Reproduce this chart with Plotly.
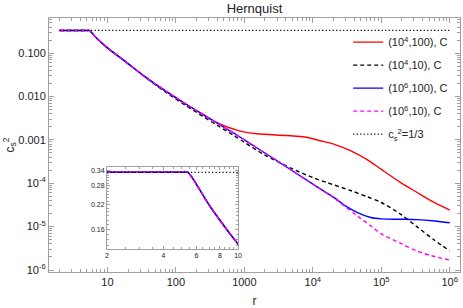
import plotly.graph_objects as go

# ---------------- data ----------------
r_common = [2, 5.2, 5.4, 7.08, 10, 18.2, 35.2, 68.4, 132, 257]
cs2_common = [0.3333, 0.3333, 0.3333, 0.215, 0.132, 0.0646, 0.0288, 0.0138, 0.00708, 0.00372]

r_red_tail = [398, 794, 1514, 4170, 8130, 12000, 21000, 36000, 63000, 98000, 190000, 330000, 575000, 1000000]
cs2_red_tail = [2.5e-3, 1.66e-3, 1.38e-3, 1.26e-3, 1.15e-3, 9.8e-4, 7.8e-4, 5.6e-4, 3.47e-4, 2.14e-4, 1.05e-4, 6.2e-5, 3.7e-5, 2.4e-5]

r_black = [2, 5.2, 5.4, 7.08, 10, 18.2, 35.2, 68.4, 132, 257, 398, 692, 1000, 2000, 4900, 10000, 16600,
           35500, 62000, 100000, 190000, 330000, 575000, 1000000]
cs2_black = [0.3333, 0.3333, 0.3333, 0.215, 0.132, 0.0646, 0.0282, 0.0131, 0.00655, 0.00336, 0.00218, 0.00128,
             8.8e-4, 4.45e-4, 2.19e-4, 1.35e-4, 1.02e-4, 6.8e-5, 4.9e-5, 3.6e-5, 1.95e-5, 1.0e-5, 5.1e-6, 2.75e-6]

r_mid = [398, 692, 1000, 3000, 12000]
cs2_mid = [2.45e-3, 1.45e-3, 1.0e-3, 3.3e-4, 7.9e-5]

r_blue_tail = [20000, 30000, 45000, 70000, 100000, 200000, 330000, 600000, 1000000]
cs2_blue_tail = [4.8e-5, 3.0e-5, 2.1e-5, 1.62e-5, 1.51e-5, 1.48e-5, 1.45e-5, 1.35e-5, 1.23e-5]

r_mag_tail = [20000, 30000, 45000, 70000, 100000, 200000, 330000, 560000, 1000000]
cs2_mag_tail = [4.7e-5, 2.85e-5, 1.75e-5, 1.05e-5, 6.8e-6, 4.0e-6, 2.75e-6, 2.1e-6, 1.7e-6]

r_ref = [2, 1000000]
cs2_ref = [1 / 3, 1 / 3]

names = ["(10<sup>4</sup>,100), C", "(10<sup>4</sup>,10), C", "(10<sup>6</sup>,100), C",
         "(10<sup>6</sup>,10), C", "c<sub>s</sub><sup>2</sup>=1/3"]

y_tickvals = [0.1, 0.01, 0.001, 1e-4, 1e-5, 1e-6]
y_ticktext = ["0.100", "0.010", "0.001", "10<sup>-4</sup>", "10<sup>-5</sup>", "10<sup>-6</sup>"]
x_tickvals = [10, 100, 1000, 1e4, 1e5, 1e6]
x_ticktext = ["10", "100", "1000", "10<sup>4</sup>", "10<sup>5</sup>", "10<sup>6</sup>"]

in_x_tickvals = [2, 4, 6, 8, 10]
in_x_ticktext = ["2", "4", "6", "8", "10"]
in_y_tickvals = [0.16, 0.22, 0.28, 0.34]
in_y_ticktext = ["0.16", "0.22", "0.28", "0.34"]

# ---------------- build series ----------------
DASH = "4px,3px"
DOT = "1.2px,2.3px"
series = [
    (r_common + r_red_tail, cs2_common + cs2_red_tail, "#ff0000", "solid"),
    (r_black, cs2_black, "#000000", DASH),
    (r_common + r_mid + r_blue_tail, cs2_common + cs2_mid + cs2_blue_tail, "#0000ff", "solid"),
    (r_common + r_mid + r_mag_tail, cs2_common + cs2_mid + cs2_mag_tail, "#ff00ff", DASH),
    (r_ref, cs2_ref, "#000000", DOT),
]

fig = go.Figure()
for axes, show in ((("x", "y"), True), (("x2", "y2"), False)):
    for i, (xs, ys, col, dash) in enumerate(series):
        shape = "linear" if dash == DOT else "spline"
        fig.add_trace(go.Scatter(x=xs, y=ys, mode="lines", name=names[i], legendgroup=f"g{i}",
                                 showlegend=show,
                                 line=dict(color=col, dash=dash, width=1.4 if dash != DOT else 1.2,
                                           shape=shape, smoothing=0.8),
                                 xaxis=axes[0], yaxis=axes[1]))

def minor_log(lo, hi):
    vals = []
    d = 10 ** lo
    while d <= 10 ** hi:
        for k in range(2, 10):
            vals.append(k * d)
        d *= 10
    return vals

frame = "#a0a0a0"
FAM = "Liberation Sans, Arial, sans-serif"
tickfont = dict(family=FAM, size=11, color="#222")
small = dict(family=FAM, size=7, color="#222")
fig.update_layout(
    width=463, height=308,
    margin=dict(l=49, r=3, t=18, b=36),
    paper_bgcolor="white", plot_bgcolor="white",
    font=dict(family=FAM, size=11, color="#222"),
    title=dict(text="Hernquist", x=0.5, xanchor="center", xref="paper", y=0.972, yanchor="middle",
               font=dict(size=13, color="#222")),
    showlegend=True,
    legend=dict(x=0.728, y=0.962, xanchor="left", yanchor="top", bgcolor="rgba(0,0,0,0)",
                font=dict(size=11), tracegroupgap=4, itemwidth=30),
    xaxis=dict(type="log", range=[0.146, 6.15], showgrid=False, zeroline=False, automargin=False,
               showline=True, linecolor=frame, linewidth=1, mirror="allticks",
               ticks="inside", ticklen=5, tickcolor=frame,
               tickvals=x_tickvals, ticktext=x_ticktext, tickfont=tickfont,
               minor=dict(tickvals=minor_log(0, 6), ticks="inside", ticklen=3, tickcolor=frame, showgrid=False),
               title=dict(text="r", standoff=11, font=dict(size=12)), anchor="y"),
    yaxis=dict(type="log", range=[-6.046, -0.19], showgrid=False, zeroline=False, automargin=False,
               showline=True, linecolor=frame, linewidth=1, mirror="allticks",
               ticks="inside", ticklen=5, tickcolor=frame,
               tickvals=y_tickvals, ticktext=y_ticktext, tickfont=tickfont,
               minor=dict(tickvals=minor_log(-7, -1), ticks="inside", ticklen=3, tickcolor=frame, showgrid=False),
               title=dict(text="c<sub>s</sub><sup>2</sup>", standoff=0, font=dict(size=12)), anchor="x"),
    xaxis2=dict(type="log", range=[0.301, 1.0], domain=[0.141, 0.460], anchor="y2", automargin=False,
                showgrid=False, zeroline=False, showline=True, linecolor=frame, linewidth=1, mirror="allticks",
                ticks="inside", ticklen=3, tickcolor=frame,
                tickvals=in_x_tickvals, ticktext=in_x_ticktext, tickfont=small,
                minor=dict(tickvals=[2.5, 3, 3.5, 4.5, 5, 5.5, 6.5, 7, 7.5, 8.5, 9, 9.5], ticks="inside", ticklen=2,
                           tickcolor=frame, showgrid=False)),
    yaxis2=dict(type="log", range=[-0.907, -0.448], domain=[0.0906, 0.413], anchor="x2", automargin=False,
                showgrid=False, zeroline=False, showline=True, linecolor=frame, linewidth=1, mirror="allticks",
                ticks="inside", ticklen=3, tickcolor=frame,
                tickvals=in_y_tickvals, ticktext=in_y_ticktext, tickfont=small,
                minor=dict(tickvals=[0.13, 0.14, 0.15, 0.17, 0.18, 0.19, 0.20, 0.21, 0.23, 0.24, 0.25, 0.26, 0.27,
                                     0.29, 0.30, 0.31, 0.32, 0.33], ticks="inside", ticklen=2,
                           tickcolor=frame, showgrid=False)),
)

fig.write_html("out.html", config={"displayModeBar": False},
               post_script="document.body.style.margin='0px';document.body.style.overflow='hidden';")
